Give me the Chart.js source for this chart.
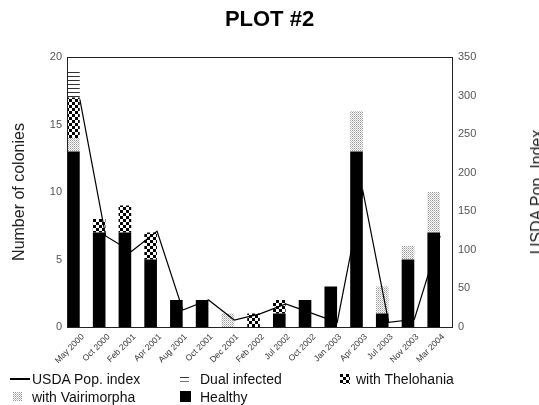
<!DOCTYPE html>
<html><head><meta charset="utf-8">
<script src="https://cdn.jsdelivr.net/npm/chart.js@4/dist/chart.umd.min.js"></script>
<style>
html,body{margin:0;padding:0;background:#fff;}
#wrap{position:relative;width:539px;height:405px;overflow:hidden;font-family:"Liberation Sans",Arial,sans-serif;}
#c{position:absolute;left:0;top:0;}
.lg{position:absolute;font-size:14px;color:#111;white-space:nowrap;line-height:16px;}
.sym{position:absolute;}
#rt{position:absolute;left:537px;top:192px;transform:translate(-50%,-50%) rotate(-90deg);font-size:16px;line-height:18px;white-space:nowrap;color:#222;}
</style></head>
<body><div id="wrap">
<canvas id="c" width="539" height="405"></canvas>
<div id="rt">USDA Pop. Index</div>
<div class="sym" style="left:10px;top:378px;width:20px;height:1.5px;background:#000"></div>
<div class="lg" style="left:32px;top:371px">USDA Pop. index</div>
<canvas class="sym" id="sDual" width="9" height="7" style="left:180px;top:376px"></canvas>
<div class="lg" style="left:200px;top:371px">Dual infected</div>
<canvas class="sym" id="sThel" width="10" height="10" style="left:340px;top:374px"></canvas>
<div class="lg" style="left:356px;top:371px">with Thelohania</div>
<canvas class="sym" id="sVair" width="9" height="9" style="left:13px;top:392px"></canvas>
<div class="lg" style="left:32px;top:389px">with Vairimorpha</div>
<div class="sym" style="left:180px;top:391px;width:11px;height:11px;background:#000"></div>
<div class="lg" style="left:200px;top:389px">Healthy</div>
</div>
<script>
const categories = ['May 2000','Oct 2000','Feb 2001','Apr 2001','Aug 2001','Oct 2001','Dec 2001','Feb 2002','Jul 2002','Oct 2002','Jan 2003','Apr 2003','Jul 2003','Nov 2003','Mar 2004'];
const healthy      = [13, 7, 7, 5, 2, 2, 0, 0, 1, 2, 3, 13, 1, 5, 7];
const vairimorpha  = [ 1, 0, 0, 0, 0, 0, 1, 0, 0, 0, 0,  3, 2, 1, 3];
const thelohania   = [ 3, 1, 2, 2, 0, 0, 0, 1, 1, 0, 0,  0, 0, 0, 0];
const dualInfected = [ 2, 0, 0, 0, 0, 0, 0, 0, 0, 0, 0,  0, 0, 0, 0];
const usdaIndex    = [295, 118, 98, 124, 22, 35, 9, 17, 30, 18, 6, 176, 6, 10, 118];
const leftTicks  = [0, 5, 10, 15, 20];
const rightTicks = [0, 50, 100, 150, 200, 250, 300, 350];

function tile(w, h, draw) {
  const t = document.createElement('canvas'); t.width = w; t.height = h;
  const g = t.getContext('2d'); g.fillStyle = '#fff'; g.fillRect(0, 0, w, h); draw(g); return t;
}
const checkTile = tile(6, 6, g => { g.fillStyle = '#000'; g.fillRect(0,0,3,3); g.fillRect(3,3,3,3); });
const stippleTile = tile(2, 2, g => { g.fillStyle = '#999'; g.fillRect(0,0,1,1); g.fillStyle = '#c4c4c4'; g.fillRect(1,1,1,1); });
const lineTile = tile(4, 4, g => { g.fillStyle = '#333'; g.fillRect(0,0,4,1); });

const ctx = document.getElementById('c').getContext('2d');
const pCheck = ctx.createPattern(checkTile, 'repeat');
const pStip = ctx.createPattern(stippleTile, 'repeat');
const pLine = ctx.createPattern(lineTile, 'repeat');

// legend symbols
(function(){
  const d = document.getElementById('sDual').getContext('2d');
  d.fillStyle = '#333'; d.fillRect(0,1,9,1); d.fillStyle = '#777'; d.fillRect(0,5,9,1);
  const t = document.getElementById('sThel').getContext('2d');
  t.fillStyle = t.createPattern(checkTile,'repeat'); t.fillRect(0,0,10,10);
  const v = document.getElementById('sVair').getContext('2d');
  v.fillStyle = v.createPattern(stippleTile,'repeat'); v.fillRect(0,0,9,9);
})();

const frame = {
  id: 'frame',
  afterDatasetsDraw(chart) {
    const a = chart.chartArea, g = chart.ctx;
    g.save(); g.strokeStyle = '#222'; g.lineWidth = 1;
    g.strokeRect(Math.round(a.left) + 0.5, Math.round(a.top) + 0.5, Math.round(a.right - a.left) - 1, Math.round(a.bottom - a.top));
    g.restore();
  }
};

const font = { family: '"Liberation Sans", Arial, sans-serif' };

new Chart(ctx, {
  data: {
    labels: categories,
    datasets: [
      { type: 'line', label: 'USDA Pop. index', data: usdaIndex, yAxisID: 'y1', borderColor: '#000', borderWidth: 1.2, pointRadius: 0, tension: 0, fill: false, order: 0 },
      { type: 'bar', label: 'Healthy', data: healthy, backgroundColor: '#000', stack: 'a', yAxisID: 'y', order: 1 },
      { type: 'bar', label: 'with Vairimorpha', data: vairimorpha, backgroundColor: pStip, stack: 'a', yAxisID: 'y', order: 1 },
      { type: 'bar', label: 'with Thelohania', data: thelohania, backgroundColor: pCheck, stack: 'a', yAxisID: 'y', order: 1 },
      { type: 'bar', label: 'Dual infected', data: dualInfected, backgroundColor: pLine, stack: 'a', yAxisID: 'y', order: 1 },
      { type: 'bar', label: '', data: categories.map(() => null), stack: 'b', yAxisID: 'y', order: 1 }
    ]
  },
  options: {
    responsive: false,
    animation: false,
    devicePixelRatio: 1,
    layout: { padding: { left: 0, right: 0, top: 0, bottom: 0 } },
    datasets: { bar: { categoryPercentage: 1.0, barPercentage: 0.98, borderWidth: 0 } },
    plugins: {
      legend: { display: false },
      tooltip: { enabled: false },
      title: { display: true, text: 'PLOT #2', color: '#000', font: { ...font, size: 22, weight: 'bold' }, padding: { top: 7, bottom: 23.6 } }
    },
    scales: {
      x: {
        stacked: true,
        grid: { display: false, drawTicks: false },
        border: { display: false },
        ticks: { color: '#333', font: { ...font, size: 8.5 }, minRotation: 45, maxRotation: 45, autoSkip: false, padding: 5, labelOffset: 3 },
        afterFit: s => { s.height = 78; }
      },
      y: {
        position: 'left', stacked: true, min: 0, max: 20,
        grid: { display: false, drawTicks: false },
        border: { display: false },
        afterBuildTicks: s => { s.ticks = leftTicks.map(v => ({ value: v })); },
        ticks: { color: '#555', font: { ...font, size: 11 }, padding: 5 },
        title: { display: true, text: 'Number of colonies', color: '#222', font: { ...font, size: 16 }, padding: { top: 10, bottom: 0 } },
        afterFit: s => { s.width = 67; }
      },
      y1: {
        position: 'right', min: 0, max: 350,
        grid: { display: false, drawTicks: false },
        border: { display: false },
        afterBuildTicks: s => { s.ticks = rightTicks.map(v => ({ value: v })); },
        ticks: { color: '#555', font: { ...font, size: 11 }, padding: 5 },
        afterFit: s => { s.width = 86; }
      }
    }
  },
  plugins: [frame]
});
</script>
</body></html>
